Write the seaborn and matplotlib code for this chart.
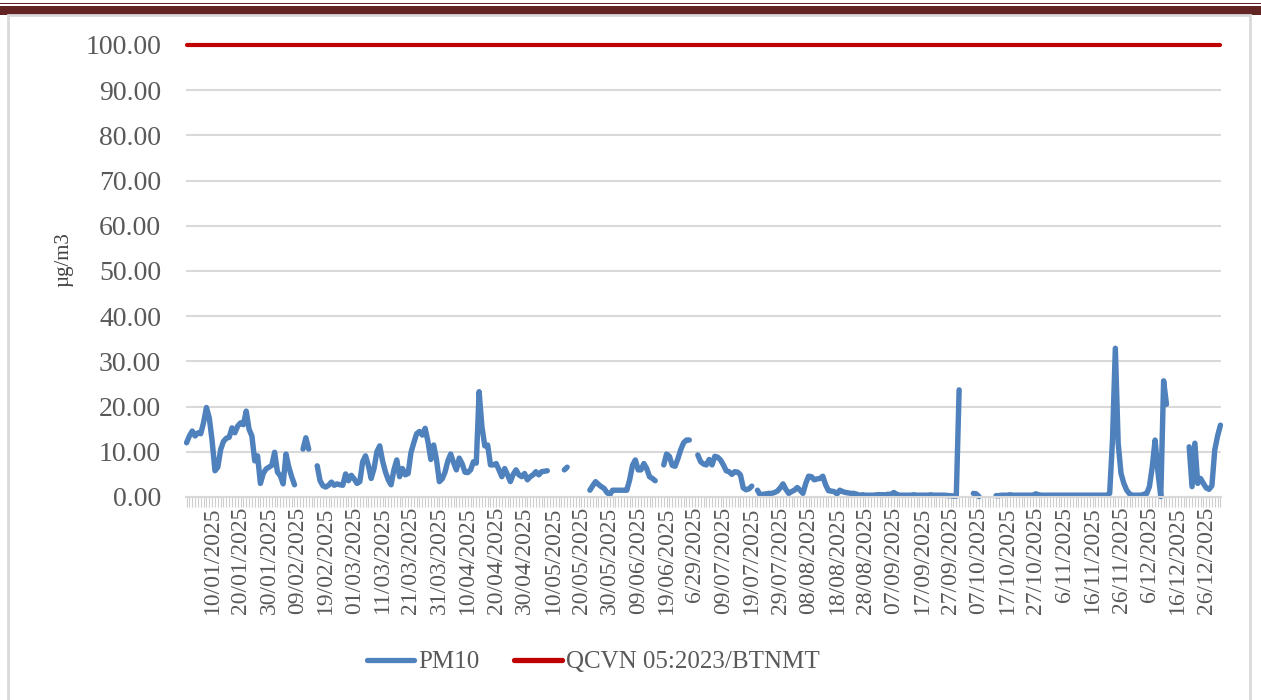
import numpy as np
import pandas as pd
import matplotlib
matplotlib.use("Agg")
import matplotlib.pyplot as plt
from matplotlib.patches import Rectangle
from matplotlib.lines import Line2D
import seaborn as sns

nan = np.nan

# Daily PM10 (ug/m3), one list per month, NaN = no data
pm10_jan = [12.0, 13.5, 14.6, 13.5, 14.2, 14.0, 16.5, 19.8, 17.5, 12.4,
            5.8, 6.6, 10.5, 12.3, 13.0, 13.2, 15.3, 14.2, 15.7, 16.4,
            16.0, 19.0, 15.0, 13.5, 8.0, 9.1, 3.0, 5.2, 6.2, 6.6, 7.0]
pm10_feb = [9.9, 5.5, 4.7, 2.9, 9.5, 6.6, 4.5, 2.7, nan, nan,
            10.6, 13.1, 10.6, nan, nan, 6.9, 3.6, 2.5, 2.2, 2.6,
            3.3, 2.6, 2.9, 2.7, 2.6, 5.1, 3.6, 4.8]
pm10_mar = [4.0, 3.0, 3.4, 7.8, 9.1, 7.0, 4.1, 6.3, 10.0, 11.3,
            8.0, 5.6, 3.8, 2.7, 6.0, 8.2, 4.5, 6.3, 4.9, 5.2,
            9.8, 12.0, 14.0, 14.5, 13.7, 15.2, 12.2, 8.3, 11.5, 8.2, 3.4]
pm10_apr = [4.0, 5.5, 8.0, 9.5, 7.6, 6.0, 8.6, 7.4, 5.5, 5.4,
            6.0, 7.8, 7.5, 23.3, 15.5, 11.3, 11.5, 7.1, 7.1, 7.4,
            6.0, 4.5, 6.3, 4.9, 3.4, 5.0, 6.0, 4.9, 4.5, 5.2]
pm10_may = [3.8, 4.5, 4.9, 5.6, 4.9, 5.6, 5.7, 5.8, nan, nan,
            nan, nan, nan, 6.0, 6.6, nan, nan, nan, nan, nan,
            nan, nan, 1.5, 2.5, 3.4, 2.8, 2.3, 1.9, 1.0, 0.5, 1.5]
pm10_jun = [1.5, 1.5, 1.5, 1.5, 1.5, 3.8, 7.0, 8.2, 6.0, 6.0,
            7.4, 6.3, 4.5, 4.1, 3.6, nan, nan, 7.1, 9.5, 9.0,
            7.0, 6.8, 8.5, 10.5, 12.0, 12.6, 12.6, nan, nan, 9.3]
pm10_jul = [7.8, 7.3, 7.1, 8.3, 7.1, 9.0, 8.8, 8.2, 7.1, 5.8,
            5.6, 5.0, 5.6, 5.5, 4.9, 2.0, 1.6, 1.8, 2.4, nan,
            1.5, 0.4, 0.6, 0.7, 0.8, 0.8, 1.0, 1.3, 2.0, 2.9, 1.7]
pm10_aug = [0.8, 1.2, 1.5, 2.1, 1.5, 0.8, 3.0, 4.6, 4.5, 3.8,
            4.0, 4.1, 4.6, 2.7, 1.4, 1.3, 1.2, 0.7, 1.5, 1.2,
            1.0, 0.9, 0.8, 0.8, 0.6, 0.4, 0.5, 0.4, 0.4, 0.4, 0.4]
pm10_sep = [0.5, 0.5, 0.5, 0.5, 0.6, 0.6, 1.0, 0.6, 0.4, 0.4,
            0.4, 0.4, 0.4, 0.5, 0.4, 0.4, 0.4, 0.4, 0.4, 0.5,
            0.4, 0.4, 0.4, 0.4, 0.4, 0.3, 0.3, 0.2, 0.2, 23.7]
pm10_oct = [nan, nan, nan, nan, 0.8, 0.7, 0.1, nan, nan, nan,
            nan, nan, 0.3, 0.3, 0.4, 0.4, 0.4, 0.5, 0.4, 0.4,
            0.4, 0.4, 0.4, 0.4, 0.4, 0.4, 0.7, 0.5, 0.4, 0.4, 0.4]
pm10_nov = [0.4, 0.4, 0.4, 0.4, 0.4, 0.4, 0.4, 0.4, 0.4, 0.4,
            0.4, 0.4, 0.4, 0.4, 0.4, 0.4, 0.4, 0.4, 0.4, 0.4,
            0.4, 0.8, 12.6, 32.9, 11.9, 5.2, 3.0, 1.5, 0.7, 0.4]
pm10_dec = [0.4, 0.4, 0.4, 0.6, 0.7, 2.3, 6.7, 12.6, 5.5, 0.1,
            25.7, 20.5, nan, nan, nan, nan, nan, nan, nan, 11.1,
            2.3, 11.9, 3.0, 4.1, 3.0, 2.0, 1.7, 2.5, 10.4, 13.5, 15.9]

standard_limit = 100.0  # QCVN 05:2023/BTNMT

tick_labels = ["10/01/2025", "20/01/2025", "30/01/2025", "09/02/2025", "19/02/2025",
               "01/03/2025", "11/03/2025", "21/03/2025", "31/03/2025", "10/04/2025",
               "20/04/2025", "30/04/2025", "10/05/2025", "20/05/2025", "30/05/2025",
               "09/06/2025", "19/06/2025", "6/29/2025", "09/07/2025", "19/07/2025",
               "29/07/2025", "08/08/2025", "18/08/2025", "28/08/2025", "07/09/2025",
               "17/09/2025", "27/09/2025", "07/10/2025", "17/10/2025", "27/10/2025",
               "6/11/2025", "16/11/2025", "26/11/2025", "6/12/2025", "16/12/2025",
               "26/12/2025"]

pm10 = (pm10_jan + pm10_feb + pm10_mar + pm10_apr + pm10_may + pm10_jun +
        pm10_jul + pm10_aug + pm10_sep + pm10_oct + pm10_nov + pm10_dec)
df = pd.DataFrame({"day": np.arange(len(pm10)), "PM10": pm10})
# segment id so that gaps (missing days) are not bridged
df["seg"] = df["PM10"].isna().cumsum()
df["QCVN"] = standard_limit

sns.set_theme(style="white")
plt.rcParams["font.family"] = ["Liberation Serif", "DejaVu Serif"]
grey_txt = "#595959"
blue = "#4f81bd"
red = "#c00000"

fig = plt.figure(figsize=(12.61, 7.0), dpi=100)

# page decoration: maroon header band and light chart frame
fig.add_artist(Rectangle((0, 1 - 4.3 / 700), 1, 1.6 / 700, transform=fig.transFigure,
                         color="#632523", lw=0))
fig.add_artist(Rectangle((0, 1 - 14.7 / 700), 1, 9.0 / 700, transform=fig.transFigure,
                         color="#632523", lw=0))
fig.add_artist(Rectangle((7.5 / 1261, -0.01), (1250 - 7.5) / 1261, 1 - 15 / 700 + 0.01,
                         transform=fig.transFigure, fill=False, edgecolor="#d9d9d9", lw=2))

ax = fig.add_axes([186 / 1261, 1 - 497 / 700, (1221 - 186) / 1261, (497 - 45) / 700])

sns.lineplot(data=df.dropna(subset=["PM10"]), x="day", y="PM10", units="seg",
             estimator=None, ax=ax, color=blue, lw=3.9, legend=False,
             solid_capstyle="round", clip_on=False)
sns.lineplot(data=df, x="day", y="QCVN", ax=ax, color=red, lw=3.0, legend=False,
             solid_capstyle="round", clip_on=False)

ax.set_xlim(-0.2, len(pm10) - 0.8)
ax.set_ylim(0, 100)
ax.set_yticks(np.arange(0, 101, 10))
ax.set_yticklabels([f"{v:.2f}" for v in np.arange(0, 101, 10)], fontsize=20, color=grey_txt)
ax.yaxis.grid(True, color="#d9d9d9", lw=1.5)
ax.set_axisbelow(True)

ax.set_xticks(np.arange(9, len(pm10), 10))
ax.set_xticklabels(tick_labels, rotation=90, fontsize=17, color=grey_txt)
ax.set_xticks(np.arange(len(pm10)), minor=True)
ax.tick_params(axis="x", which="both", direction="out", length=7, width=0.8,
               color="#cfcfcf", bottom=True, pad=0)
ax.tick_params(axis="y", length=0, pad=18)

for side in ["top", "right", "left"]:
    ax.spines[side].set_visible(False)
ax.spines["bottom"].set_color("#d9d9d9")
ax.spines["bottom"].set_linewidth(1.5)

ax.set_xlabel("")
ax.set_ylabel("µg/m3", fontsize=15, color="#404040")
ax.yaxis.set_label_coords(-0.109, 0.525)

handles = [Line2D([], [], color=blue, lw=3.8, solid_capstyle="round"),
           Line2D([], [], color=red, lw=3.8, solid_capstyle="round")]
leg = fig.legend(handles, ["PM10", "QCVN 05:2023/BTNMT"], loc="center",
                 bbox_to_anchor=(593 / 1261, 1 - 662 / 700), ncol=2, frameon=False,
                 fontsize=18, handlelength=1.9, handletextpad=0.15, columnspacing=1.4)
for t in leg.get_texts():
    t.set_color(grey_txt)

fig.savefig("out.png", dpi=100)
